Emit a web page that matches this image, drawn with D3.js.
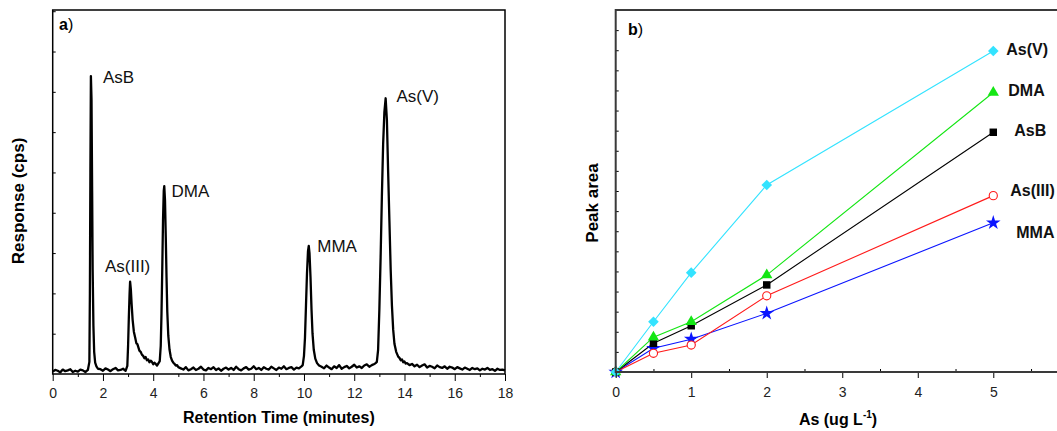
<!DOCTYPE html>
<html>
<head>
<meta charset="utf-8">
<script src="https://cdn.jsdelivr.net/npm/d3@7"></script>
<style>
  body { margin: 0; background: #fff; }
  svg { display: block; font-family: Arial, "Liberation Sans", sans-serif; }
</style>
</head>
<body>
<svg id="chart" width="1057" height="431"></svg>
<script>
// ---- panel a: chromatogram, [retention time (min), response] ----
const chromatogram = [
  [0.0,0.06],[0.1,0.10],[0.2,0.08],[0.3,0.04],[0.4,0.11],[0.5,0.07],[0.6,0.09],[0.7,0.12],[0.8,0.05],[0.9,0.08],
  [1.0,0.06],[1.1,0.11],[1.2,0.09],[1.3,0.05],[1.4,0.10],
  // AsB
  [1.46,0.3],[1.48,2.0],[1.50,5.0],[1.52,7.39],[1.545,6.8],[1.57,4.5],[1.59,2.6],[1.62,1.2],[1.65,0.55],[1.69,0.28],[1.74,0.19],[1.8,0.13],
  [1.9,0.12],[2.0,0.08],[2.1,0.14],[2.2,0.11],[2.3,0.07],[2.4,0.12],[2.5,0.15],[2.6,0.09],[2.7,0.10],[2.8,0.13],[2.9,0.08],
  // As(III)
  [2.97,0.2],[3.0,0.7],[3.03,1.4],[3.06,2.0],[3.08,2.29],[3.11,2.1],[3.14,1.75],[3.18,1.35],[3.23,1.05],[3.29,0.88],
  [3.33,0.76],[3.37,0.74],[3.41,0.66],[3.45,0.58],[3.5,0.55],[3.55,0.48],[3.6,0.45],[3.65,0.39],[3.7,0.42],[3.75,0.34],
  [3.8,0.36],[3.85,0.29],[3.9,0.33],[3.95,0.30],[4.0,0.24],[4.05,0.28],[4.1,0.25],[4.15,0.21],[4.2,0.26],
  // DMA
  [4.26,0.32],[4.3,0.7],[4.33,1.5],[4.36,2.6],[4.39,3.8],[4.42,4.55],[4.44,4.66],[4.47,4.3],[4.5,3.4],[4.53,2.4],
  [4.56,1.55],[4.6,0.95],[4.65,0.6],[4.7,0.42],[4.75,0.33],[4.8,0.28],[4.85,0.25],[4.9,0.21],[4.95,0.22],[5.0,0.17],
  [5.1,0.14],[5.2,0.11],[5.3,0.17],[5.4,0.09],[5.5,0.12],[5.6,0.16],[5.7,0.10],[5.8,0.13],[5.9,0.18],[6.0,0.11],
  [6.1,0.09],[6.2,0.15],[6.3,0.12],[6.4,0.17],[6.5,0.10],[6.6,0.14],[6.7,0.08],[6.8,0.13],[6.9,0.16],[7.0,0.11],
  [7.1,0.15],[7.2,0.10],[7.3,0.18],[7.4,0.12],[7.5,0.09],[7.6,0.14],[7.7,0.17],[7.8,0.11],[7.9,0.13],[8.0,0.19],
  [8.1,0.12],[8.2,0.15],[8.3,0.10],[8.4,0.17],[8.5,0.13],[8.6,0.11],[8.7,0.18],[8.8,0.14],[8.9,0.10],[9.0,0.16],
  [9.1,0.13],[9.2,0.19],[9.3,0.12],[9.4,0.15],[9.5,0.17],[9.6,0.11],[9.7,0.16],[9.8,0.14],[9.9,0.19],
  // MMA
  [9.95,0.22],[10.0,0.45],[10.04,0.9],[10.08,1.7],[10.12,2.5],[10.16,3.05],[10.19,3.18],[10.22,3.0],[10.26,2.4],
  [10.3,1.6],[10.34,1.0],[10.39,0.6],[10.45,0.38],[10.52,0.27],[10.6,0.21],
  [10.7,0.18],[10.8,0.14],[10.9,0.21],[11.0,0.16],[11.1,0.12],[11.2,0.19],[11.3,0.15],[11.4,0.22],[11.5,0.13],[11.6,0.17],
  [11.7,0.20],[11.8,0.14],[11.9,0.18],[12.0,0.23],[12.1,0.16],[12.2,0.19],[12.3,0.15],[12.4,0.21],[12.5,0.24],[12.6,0.18],
  [12.7,0.22],[12.8,0.25],
  // As(V)
  [12.85,0.27],[12.9,0.3],[12.95,0.6],[13.0,1.6],[13.05,2.9],[13.1,4.4],[13.15,5.7],[13.2,6.5],[13.25,6.84],[13.3,6.3],
  [13.35,5.0],[13.4,3.8],[13.45,2.6],[13.5,1.7],[13.55,1.1],[13.6,0.75],[13.67,0.55],[13.75,0.43],[13.8,0.40],[13.85,0.34],
  [13.9,0.36],[13.95,0.29],[14.0,0.31],[14.05,0.26],
  [14.1,0.27],[14.2,0.22],[14.3,0.25],[14.4,0.19],[14.5,0.23],[14.6,0.17],[14.7,0.21],[14.8,0.24],[14.9,0.16],[15.0,0.20],
  [15.1,0.18],[15.2,0.14],[15.3,0.21],[15.4,0.17],[15.5,0.15],[15.6,0.19],[15.7,0.13],[15.8,0.18],[15.9,0.16],[16.0,0.12],
  [16.1,0.17],[16.2,0.14],[16.3,0.11],[16.4,0.16],[16.5,0.13],[16.6,0.10],[16.7,0.15],[16.8,0.12],[16.9,0.14],[17.0,0.09],
  [17.1,0.13],[17.2,0.11],[17.3,0.15],[17.4,0.10],[17.5,0.12],[17.6,0.08],[17.7,0.13],[17.8,0.10],[17.9,0.11],[18.0,0.09]
];
const peakNames = ["AsB", "As(III)", "DMA", "MMA", "As(V)"];
const peakLabelAt = [[2.0, 7.21], [2.08, 2.54], [4.73, 4.38], [10.53, 3.03], [13.68, 6.74]];
const timeTicks = [0, 2, 4, 6, 8, 10, 12, 14, 16, 18];

// ---- panel b: calibration, peak area vs As (ug/L) ----
const concentration = [0, 0.5, 1, 2, 5];
const asV   = [0, 2.50, 4.94, 9.30, 15.96];
const dma   = [0, 1.73, 2.50, 4.82, 13.90];
const asB   = [0, 1.43, 2.30, 4.33, 11.92];
const asIII = [0, 0.93, 1.34, 3.79, 8.77];
const mma   = [0, 1.18, 1.63, 2.92, 7.42];
const concTicks = [0, 1, 2, 3, 4, 5];

const svg = d3.select("#chart");

// ================= panel a =================
const xa = d3.scaleLinear().domain([0, 18]).range([52.7, 505]);
const ya = d3.scaleLinear().domain([0, 9.03]).range([374, 10]);

svg.append("path")
  .datum(chromatogram)
  .attr("fill", "none")
  .attr("stroke", "#000")
  .attr("stroke-width", 2.3)
  .attr("stroke-linejoin", "round")
  .attr("d", d3.line().x(d => xa(d[0])).y(d => ya(d[1])));

// minor x ticks
svg.append("g")
  .attr("transform", `translate(0,${ya(0)})`)
  .call(d3.axisBottom(xa).tickValues(d3.range(1, 18, 2)).tickSize(3).tickFormat(""))
  .call(g => g.select(".domain").remove());

svg.append("g")
  .attr("transform", `translate(0,${ya(0)})`)
  .call(d3.axisBottom(xa).tickValues(timeTicks).tickSize(7).tickPadding(7))
  .call(g => g.select(".domain").remove())
  .call(g => g.selectAll("text").attr("font-size", 14).attr("fill", "#222").attr("font-family", "Arial, Liberation Sans, sans-serif"));

svg.append("g")
  .attr("transform", `translate(${xa(0)},0)`)
  .call(d3.axisRight(ya).tickValues(d3.range(1, 10)).tickSize(3).tickFormat(""))
  .call(g => g.select(".domain").remove());

svg.append("rect")
  .attr("x", xa(0)).attr("y", ya(9.03))
  .attr("width", xa(18) - xa(0)).attr("height", ya(0) - ya(9.03))
  .attr("fill", "none").attr("stroke", "#000").attr("stroke-width", 1.5);

svg.append("g").selectAll("text")
  .data(peakNames)
  .join("text")
  .attr("x", (d, i) => xa(peakLabelAt[i][0]))
  .attr("y", (d, i) => ya(peakLabelAt[i][1]))
  .attr("font-size", 17)
  .attr("fill", "#111")
  .text(d => d);

const tagA = svg.append("text").attr("x", 59).attr("y", 30).attr("font-size", 16);
tagA.append("tspan").attr("font-weight", "bold").text("a");
tagA.append("tspan").text(")");

svg.append("text")
  .attr("x", (xa(0) + xa(18)) / 2).attr("y", 423)
  .attr("text-anchor", "middle").attr("font-size", 16).attr("font-weight", "bold")
  .text("Retention Time (minutes)");

svg.append("text")
  .attr("transform", "translate(24,201) rotate(-90)")
  .attr("text-anchor", "middle").attr("font-size", 17).attr("font-weight", "bold")
  .text("Response (cps)");

// ================= panel b =================
const xb = d3.scaleLinear().domain([0, 6]).range([615.7, 1068.8]);
const yb = d3.scaleLinear().domain([0, 18]).range([372, 10]);

const series = [
  { name: "As(V)",   values: asV,   color: "#33e3ff", shape: "diamond",  nudge: [13, 4] },
  { name: "DMA",     values: dma,   color: "#14e614", shape: "triangle", nudge: [15, 4] },
  { name: "AsB",     values: asB,   color: "#000000", shape: "square",   nudge: [21, 4] },
  { name: "As(III)", values: asIII, color: "#ff1a1a", shape: "circle",   nudge: [17, 0] },
  { name: "MMA",     values: mma,   color: "#0a14ff", shape: "star",     nudge: [23, 15] }
];

const symbols = {
  diamond: d3.symbol().type(d3.symbolDiamond2).size(72),
  triangle: d3.symbol().type(d3.symbolTriangle).size(56),
  square: d3.symbol().type(d3.symbolSquare).size(56),
  circle: d3.symbol().type(d3.symbolCircle).size(52),
  star: d3.symbol().type(d3.symbolStar).size(66)
};

const lineB = d3.line().x((d, i) => xb(concentration[i])).y(d => yb(d));

// draw order so cyan sits on top like the reference
const drawOrder = ["MMA", "As(III)", "AsB", "DMA", "As(V)"];
drawOrder.forEach(n => {
  const s = series.find(d => d.name === n);
  svg.append("path")
    .datum(s.values)
    .attr("fill", "none").attr("stroke", s.color).attr("stroke-width", 1.1)
    .attr("d", lineB);
});
drawOrder.forEach(n => {
  const s = series.find(d => d.name === n);
  svg.append("g").selectAll("path")
    .data(s.values)
    .join("path")
    .attr("transform", (d, i) => `translate(${xb(concentration[i])},${yb(d)})`)
    .attr("d", symbols[s.shape]())
    .attr("fill", s.shape === "circle" ? "#fff" : s.color)
    .attr("stroke", s.shape === "circle" ? s.color : "none")
    .attr("stroke-width", 1.1);
});

svg.append("g").selectAll("text")
  .data(series)
  .join("text")
  .attr("x", d => xb(5) + d.nudge[0])
  .attr("y", d => yb(d.values[4]) + d.nudge[1])
  .attr("font-size", 16).attr("font-weight", "bold").attr("fill", "#111")
  .text(d => d.name);

// axes b
svg.append("g")
  .attr("transform", `translate(0,${yb(0)})`)
  .call(d3.axisBottom(xb).tickValues([0.5, 1.5, 2.5, 3.5, 4.5, 5.5]).tickSize(-3).tickFormat(""))
  .call(g => g.select(".domain").remove());

svg.append("g")
  .attr("transform", `translate(0,${yb(0)})`)
  .call(d3.axisBottom(xb).tickValues(concTicks).tickSize(6).tickPadding(9).tickFormat(d3.format("d")))
  .call(g => g.select(".domain").remove())
  .call(g => g.selectAll("text").attr("font-size", 14).attr("fill", "#222").attr("font-family", "Arial, Liberation Sans, sans-serif"));

svg.append("g")
  .attr("transform", `translate(${xb(0)},0)`)
  .call(d3.axisRight(yb).tickValues(d3.range(1, 18)).tickSize(3).tickFormat(""))
  .call(g => g.select(".domain").remove());

svg.append("rect")
  .attr("x", xb(0)).attr("y", yb(18))
  .attr("width", xb(6) - xb(0)).attr("height", yb(0) - yb(18))
  .attr("fill", "none").attr("stroke", "#3a3a3a").attr("stroke-width", 2);

const tagB = svg.append("text").attr("x", 628).attr("y", 35).attr("font-size", 16);
tagB.append("tspan").attr("font-weight", "bold").text("b");
tagB.append("tspan").text(")");

const xtB = svg.append("text")
  .attr("x", 838).attr("y", 425)
  .attr("text-anchor", "middle").attr("font-size", 16).attr("font-weight", "bold");
xtB.append("tspan").text("As (ug L");
xtB.append("tspan").attr("font-size", 10).attr("dy", -7).text("-1");
xtB.append("tspan").attr("dy", 7).text(")");

svg.append("text")
  .attr("transform", "translate(598,203) rotate(-90)")
  .attr("text-anchor", "middle").attr("font-size", 17).attr("font-weight", "bold")
  .text("Peak area");
</script>
</body>
</html>
